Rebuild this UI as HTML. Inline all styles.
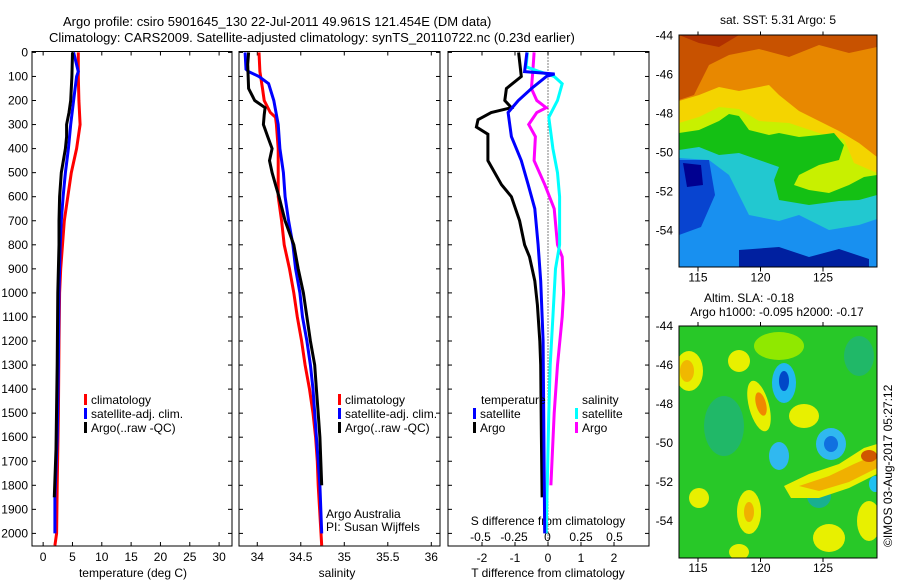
<!DOCTYPE html>
<html><head><meta charset="utf-8">
<style>
html,body{margin:0;padding:0;background:#fff;}
svg{display:block;font-family:"Liberation Sans",sans-serif;}
text{font-size:12px;fill:#000;}
</style></head>
<body>
<svg id="fig" width="900" height="580" viewBox="0 0 900 580" xmlns="http://www.w3.org/2000/svg">
<rect width="900" height="580" fill="#fff"/>
<text x="63" y="26" style="font-size:13px">Argo profile: csiro 5901645_130 22-Jul-2011 49.961S 121.454E (DM data)</text>
<text x="49" y="42" style="font-size:13px">Climatology: CARS2009. Satellite-adjusted climatology: synTS_20110722.nc (0.23d earlier)</text>
<g id="plots"></g>

<g transform="translate(679,35)">
<svg width="198" height="232" viewBox="0 0 198 232">
<rect width="198" height="232" fill="#e88800"/>
<path d="M0 0H198V12L170 18 140 10 110 22 80 14 50 20 30 30 15 60 0 65Z" fill="#c85200"/>
<path d="M0 0H60L40 12 20 8Z" fill="#b03000"/>
<path d="M0 66 20 60 40 52 60 56 90 50 100 60 120 76 140 86 160 96 180 108 198 122V232H0Z" fill="#f4d400"/>
<path d="M0 88 20 82 40 72 60 74 80 86 110 88 140 98 165 104 175 128 198 138V232H0Z" fill="#c8f000"/>
<path d="M0 98 20 95 40 86 50 79 60 81 70 95 90 100 100 98 120 102 140 100 155 98 165 110 160 125 140 130 120 140 115 150 130 155 150 158 170 150 185 142 198 140V232H0Z" fill="#14c014"/>
<path d="M0 115 20 112 40 120 60 118 80 125 100 132 95 145 100 165 130 170 160 166 180 165 198 160V232H0Z" fill="#22c8d0"/>
<path d="M0 123 30 125 50 140 60 160 70 180 100 186 120 180 150 195 180 190 198 184V232H0Z" fill="#1890f0"/>
<path d="M0 125 30 125 36 160 22 192 0 200Z" fill="#0844d0"/>
<path d="M0 232V205 30 200 60 204 100 196 140 206 170 196 198 206V232Z" fill="#0844d0"/>
<path d="M4 128 22 130 24 150 8 152Z" fill="#000090"/>
<path d="M60 215 100 212 130 222 160 214 190 224V232H60Z" fill="#0020a0"/>
</svg>
<rect width="198" height="232" fill="none" stroke="#000"/>
</g>

<g transform="translate(679,326)">
<svg width="198" height="232" viewBox="0 0 198 232">
<rect width="198" height="232" fill="#28c828"/>
<ellipse cx="45" cy="100" rx="20" ry="30" fill="#20b868"/>
<ellipse cx="180" cy="30" rx="15" ry="20" fill="#20b868"/>
<ellipse cx="140" cy="170" rx="12" ry="12" fill="#18b090"/>
<ellipse cx="100" cy="20" rx="25" ry="14" fill="#90e800"/>
<ellipse cx="10" cy="45" rx="14" ry="20" fill="#e8f000"/>
<ellipse cx="8" cy="45" rx="7" ry="11" fill="#f0b800"/>
<ellipse cx="60" cy="35" rx="11" ry="11" fill="#e8f000"/>
<ellipse cx="80" cy="80" rx="10" ry="26" fill="#e8f000" transform="rotate(-15 80 80)"/>
<ellipse cx="82" cy="78" rx="5" ry="12" fill="#f08800" transform="rotate(-15 82 78)"/>
<ellipse cx="105" cy="57" rx="12" ry="20" fill="#22b8f0"/>
<ellipse cx="105" cy="55" rx="5" ry="10" fill="#0048c8"/>
<ellipse cx="125" cy="90" rx="15" ry="12" fill="#e8f000"/>
<ellipse cx="100" cy="130" rx="10" ry="14" fill="#30b8f0"/>
<ellipse cx="152" cy="118" rx="15" ry="16" fill="#30b8f0"/>
<ellipse cx="152" cy="118" rx="7" ry="8" fill="#1070e0"/>
<path d="M105 160 130 148 160 138 185 122 198 118V148L170 162 140 172 112 172Z" fill="#e8f000"/>
<path d="M120 160 150 150 175 138 198 128V142L170 156 140 165Z" fill="#f0b000"/>
<ellipse cx="190" cy="130" rx="8" ry="6" fill="#d05800"/>
<ellipse cx="196" cy="158" rx="6" ry="8" fill="#20c0f0"/>
<ellipse cx="20" cy="172" rx="10" ry="10" fill="#e8f000"/>
<ellipse cx="70" cy="186" rx="12" ry="22" fill="#e8f000"/>
<ellipse cx="70" cy="186" rx="5" ry="10" fill="#f0b000"/>
<ellipse cx="150" cy="212" rx="16" ry="14" fill="#e8f000"/>
<ellipse cx="190" cy="195" rx="12" ry="20" fill="#e8f000"/>
<ellipse cx="60" cy="226" rx="10" ry="8" fill="#e8f000"/>
</svg>
<rect width="198" height="232" fill="none" stroke="#000"/>
</g>

<text x="778" y="24" text-anchor="middle">sat. SST: 5.31 Argo: 5</text>
<text x="749" y="302" text-anchor="middle">Altim. SLA: -0.18</text>
<text x="777" y="316" text-anchor="middle">Argo h1000: -0.095 h2000: -0.17</text>
<text transform="translate(892,547) rotate(-90)">©IMOS 03-Aug-2017 05:27:12</text>
</svg>

<script>
const depthTicks=[0,100,200,300,400,500,600,700,800,900,1000,1100,1200,1300,1400,1500,1600,1700,1800,1900,2000];
const tempTicks=[0,5,10,15,20,25,30];
const salTicks=[34,34.5,35,35.5,36];
const salTickLabels=["34","34.5","35","35.5","36"];
const tdiffTicks=[-2,-1,0,1,2];
const sdiffTicks=[-0.5,-0.25,0,0.25,0.5];
const sdiffTickLabels=["-0.5","-0.25","0","0.25","0.5"];

const tClimDepth=[0,100,200,300,400,500,600,700,800,900,1000,1200,1500,1800,2000,2050];
const tClim=[6.0,6.0,6.1,6.3,5.7,4.8,4.2,3.6,3.3,3.0,2.8,2.7,2.6,2.4,2.3,2.0];
const tSatDepth=[0,80,100,200,300,400,500,600,700,800,1000,1300,1600,1850,2000];
const tSat=[5.2,6.0,5.7,5.2,4.7,4.3,3.8,3.4,3.1,2.9,2.7,2.6,2.4,2.0,2.0];
const tArgoDepth=[0,100,200,250,300,350,400,500,600,700,800,1000,1300,1650,1850];
const tArgo=[5.0,4.9,4.7,4.4,4.0,4.0,3.8,3.1,2.8,2.7,2.7,2.5,2.4,2.2,1.9];

const sClimDepth=[0,80,150,200,250,270,300,400,500,600,700,800,900,1000,1100,1200,1300,1400,1500,1600,1700,1800,2050];
const sClim=[34.02,34.03,34.06,34.08,34.15,34.21,34.22,34.24,34.24,34.24,34.28,34.31,34.37,34.42,34.46,34.51,34.55,34.60,34.64,34.67,34.69,34.70,34.74];
const sSatDepth=[0,70,80,100,130,200,300,400,500,600,700,800,900,1000,1100,1200,1300,1400,1500,1600,1700,1800,2000];
const sSat=[33.86,33.87,33.90,34.02,34.13,34.19,34.24,34.26,34.30,34.32,34.36,34.41,34.44,34.49,34.52,34.57,34.61,34.64,34.66,34.68,34.70,34.72,34.74];
const sArgoDepth=[0,50,150,200,230,260,300,350,400,450,500,550,600,700,800,900,1000,1100,1200,1300,1400,1500,1600,1700,1800];
const sArgo=[33.90,33.89,33.90,33.97,34.09,34.08,34.07,34.12,34.17,34.14,34.17,34.21,34.25,34.32,34.42,34.47,34.53,34.57,34.61,34.66,34.68,34.70,34.72,34.73,34.74];

const dtArgoDepth=[0,100,150,200,230,250,280,310,340,450,550,600,700,800,850,950,1050,1200,1300,1600,1850];
const dtArgo=[-0.89,-0.81,-1.26,-1.31,-1.11,-1.72,-2.12,-2.17,-1.82,-1.82,-1.41,-1.11,-0.86,-0.71,-0.56,-0.40,-0.32,-0.25,-0.22,-0.20,-0.18];
const dtSatDepth=[0,80,90,100,150,200,250,350,450,550,650,800,950,1200,1500,2000];
const dtSat=[-0.64,-0.71,0.2,-0.05,-0.5,-0.9,-1.21,-1.11,-0.81,-0.6,-0.4,-0.3,-0.22,-0.15,-0.13,-0.1];
const dsSatDepth=[0,60,80,100,130,200,270,400,500,600,800,900,1100,1300,1500,2000];
const dsSat=[-0.15,-0.16,-0.06,0.05,0.11,0.075,0.01,0.04,0.075,0.09,0.09,0.06,0.04,0.02,0.01,-0.01];
const dsArgoDepth=[0,80,150,200,230,250,300,350,450,550,650,800,850,1000,1100,1300,1500,1800];
const dsArgo=[-0.1,-0.11,-0.12,-0.08,-0.01,-0.08,-0.14,-0.09,-0.1,-0.02,0.05,0.075,0.11,0.12,0.11,0.075,0.05,0.025];

const latTicks=[-44,-46,-48,-50,-52,-54];
const lonTicks=[115,120,125];
const argoLon=[121.454];
const argoLat=[-49.961];

const NS="http://www.w3.org/2000/svg";
const root=document.getElementById('plots');
function mk(tag,attrs,parent){const e=document.createElementNS(NS,tag);for(const k in attrs)e.setAttribute(k,attrs[k]);(parent||root).appendChild(e);return e;}
const yTop=51.5,yBot=546;
const yD=d=>52.4+d*0.2405;
const panels=[{x0:32,x1:232,lo:-1.9,hi:32.2},{x0:239,x1:440,lo:33.79,hi:36.1},{x0:448,x1:649,lo:-3.03,hi:3.06}];
const sx=(p,v)=>p.x0+(v-p.lo)/(p.hi-p.lo)*(p.x1-p.x0);
const sdx=v=>547.5+v*134;

function line(p,vals,deps,color,name,fx){
  let d='';vals.forEach((v,i)=>{d+=(i?'L':'M')+(fx?fx(v):sx(p,v)).toFixed(1)+' '+yD(deps[i]).toFixed(1);});
  const e=mk('path',{d:d,fill:'none',stroke:color,'stroke-width':3,'stroke-linejoin':'miter'});
  
  
}
function txt(x,y,s,anchor,name){const e=mk('text',{x:x,y:y,'text-anchor':anchor||'start'});e.textContent=s;
  
  return e;}

panels.forEach((p,pi)=>{
  const r=mk('rect',{x:p.x0,y:yTop,width:p.x1-p.x0,height:yBot-yTop,fill:'#fff',stroke:'#000'});
  
  
  depthTicks.forEach(d=>{const y=yD(d);
    mk('line',{x1:p.x0,x2:p.x0+4,y1:y,y2:y,stroke:'#000'});mk('line',{x1:p.x1-4,x2:p.x1,y1:y,y2:y,stroke:'#000'});});
});
depthTicks.forEach(d=>txt(28,yD(d)+4,String(d),'end','depth-tick-label'));

const p1=panels[0];
tempTicks.forEach(t=>{const x=sx(p1,t);mk('line',{x1:x,x2:x,y1:yTop,y2:yTop+4,stroke:'#000'});mk('line',{x1:x,x2:x,y1:yBot-4,y2:yBot,stroke:'#000'});txt(x,561,String(t),'middle','temperature-tick-label');});
txt(133,577,'temperature (deg C)','middle','x-axis-title-temperature');
line(p1,tClim,tClimDepth,'#ff0000','temp-climatology-line');
line(p1,tSat,tSatDepth,'#0000ff','temp-satellite-line');
line(p1,tArgo,tArgoDepth,'#000','temp-argo-line');

const p2=panels[1];
salTicks.forEach((t,i)=>{const x=sx(p2,t);mk('line',{x1:x,x2:x,y1:yTop,y2:yTop+4,stroke:'#000'});mk('line',{x1:x,x2:x,y1:yBot-4,y2:yBot,stroke:'#000'});txt(x,561,salTickLabels[i],'middle','salinity-tick-label');});
txt(337,577,'salinity','middle','x-axis-title-salinity');
line(p2,sClim,sClimDepth,'#ff0000','sal-climatology-line');
line(p2,sSat,sSatDepth,'#0000ff','sal-satellite-line');
line(p2,sArgo,sArgoDepth,'#000','sal-argo-line');
txt(326,518,'Argo Australia','start','credit-argo-australia');
txt(326,531,'PI: Susan Wijffels','start','credit-pi');

const p3=panels[2];
tdiffTicks.forEach(t=>{const x=sx(p3,t);mk('line',{x1:x,x2:x,y1:yTop,y2:yTop+4,stroke:'#000'});mk('line',{x1:x,x2:x,y1:yBot-4,y2:yBot,stroke:'#000'});txt(x,562,String(t),'middle','tdiff-tick-label');});
sdiffTicks.forEach((t,i)=>txt(sdx(t),541,sdiffTickLabels[i],'middle','sdiff-tick-label'));
txt(548,525,'S difference from climatology','middle','sdiff-axis-title');
txt(548,577,'T difference from climatology','middle','tdiff-axis-title');
mk('line',{x1:548,x2:548,y1:yTop,y2:yBot,stroke:'#000','stroke-dasharray':'1 2'});
line(p3,dsArgo,dsArgoDepth,'#ff00ff','sdiff-argo-line',sdx);
line(p3,dsSat,dsSatDepth,'#00ffff','sdiff-satellite-line',sdx);
line(p3,dtArgo,dtArgoDepth,'#000','tdiff-argo-line');
line(p3,dtSat,dtSatDepth,'#0000ff','tdiff-satellite-line');

function leg(x,y,color,label,name){mk('rect',{x:x,y:y-10,width:3,height:11,fill:color});txt(x+7,y,label,'start',name);}
leg(84,404,'#ff0000','climatology','legend-climatology');
leg(84,418,'#0000ff','satellite-adj. clim.','legend-satellite-adj');
leg(84,432,'#000','Argo(..raw -QC)','legend-argo');
leg(338,404,'#ff0000','climatology','legend-climatology-2');
leg(338,418,'#0000ff','satellite-adj. clim.','legend-satellite-adj-2');
leg(338,432,'#000','Argo(..raw -QC)','legend-argo-2');
txt(481,404,'temperature','start','legend-temperature-heading');
leg(473,418,'#0000ff','satellite','legend-t-satellite');
leg(473,432,'#000','Argo','legend-t-argo');
txt(582,404,'salinity','start','legend-salinity-heading');
leg(575,418,'#00ffff','satellite','legend-s-satellite');
leg(575,432,'#ff00ff','Argo','legend-s-argo');

const mapX=lon=>679.25+(lon-113.5)*12.5;
[[35.5,'sst'],[326,'sla']].forEach(([y0,nm])=>{
  const yL=lat=>y0+(-44-lat)*19.5;
  latTicks.forEach(l=>{const y=yL(l);txt(673,y+4,String(l),'end',nm+'-lat-label');
    mk('line',{x1:873,x2:877,y1:y,y2:y,stroke:'#000'});});
  const yb=y0+232;
  lonTicks.forEach(l=>{const x=mapX(l);txt(x,yb+14,String(l),'middle',nm+'-lon-label');
    mk('line',{x1:x,x2:x,y1:y0-4,y2:y0,stroke:'#000'});mk('line',{x1:x,x2:x,y1:yb,y2:yb+4,stroke:'#000'});});
  argoLon.forEach((lon,i)=>{const c=mk('ellipse',{cx:mapX(lon),cy:yL(argoLat[i]),rx:5,ry:5,fill:'none',stroke:'#000'});
    
    });
});
</script>
</body></html>
